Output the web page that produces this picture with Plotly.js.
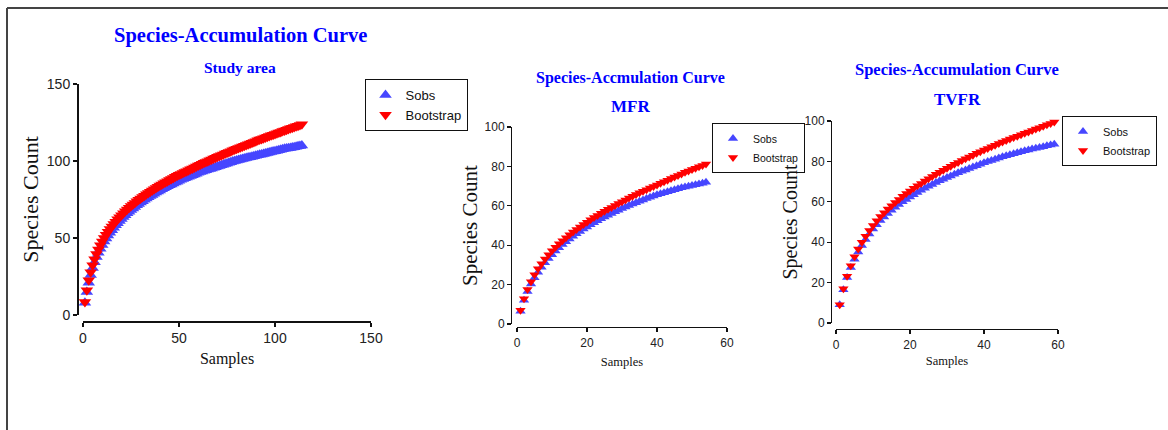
<!DOCTYPE html>
<html><head><meta charset="utf-8">
<script src="https://cdn.plot.ly/plotly-3.0.1.min.js"></script>
<style>html,body{margin:0;padding:0;background:#fff}#chart{width:1168px;height:430px}</style>
</head><body><div id="chart"></div>
<script>
// ---- Study area ----
const studySamples = [1,2,3,4,5,6,7,8,9,10,11,12,13,14,15,16,17,18,19,20,21,22,23,24,25,26,27,28,29,30,31,32,33,34,35,36,37,38,39,40,41,42,43,44,45,46,47,48,49,50,51,52,53,54,55,56,57,58,59,60,61,62,63,64,65,66,67,68,69,70,71,72,73,74,75,76,77,78,79,80,81,82,83,84,85,86,87,88,89,90,91,92,93,94,95,96,97,98,99,100,101,102,103,104,105,106,107,108,109,110,111,112,113,114];
const studySobs = [8,15,21,26,30.5,34.3,37.6,40.5,43.1,45.5,
  47.7,49.7,51.6,53.4,55.1,56.7,58.2,59.6,61.0,62.3,
  63.6,64.8,66.0,67.1,68.2,69.2,70.2,71.2,72.1,73.0,
  73.9,74.8,75.6,76.4,77.2,78.0,78.8,79.5,80.2,80.9,
  81.6,82.3,83.0,83.6,84.2,84.8,85.4,86.0,86.6,87.2,
  87.8,88.3,88.8,89.3,89.8,90.3,90.8,91.3,91.8,92.3,
  92.8,93.2,93.6,94.0,94.4,94.8,95.2,95.6,96.0,96.4,
  96.8,97.2,97.6,98.0,98.4,98.8,99.2,99.6,100.0,100.4,
  100.7,101.0,101.3,101.6,101.9,102.2,102.5,102.8,103.1,103.4,
  103.7,104.0,104.3,104.6,104.9,105.2,105.5,105.8,106.1,106.4,
  106.7,107.0,107.3,107.6,107.9,108.1,108.3,108.5,108.7,108.9,
  109.2,109.5,109.8,110.1];
const studyBootstrap = [8.5,16,22.5,27.8,32.3,36.2,39.6,42.6,45.3,47.8,
  50.0,52.1,54.0,55.8,57.5,59.1,60.6,62.1,63.5,64.8,
  66.1,67.3,68.5,69.6,70.7,71.8,72.8,73.8,74.8,75.7,
  76.6,77.5,78.4,79.3,80.1,80.9,81.7,82.5,83.3,84.1,
  84.8,85.5,86.2,86.9,87.6,88.3,89.0,89.7,90.4,91.0,
  91.6,92.2,92.8,93.4,94.0,94.6,95.2,95.8,96.4,97.0,
  97.6,98.2,98.8,99.3,99.9,100.5,101.0,101.6,102.1,102.7,
  103.2,103.8,104.3,104.8,105.4,105.9,106.4,106.9,107.4,107.9,
  108.4,108.9,109.4,109.9,110.4,110.9,111.4,111.9,112.4,112.9,
  113.4,113.9,114.3,114.8,115.3,115.7,116.2,116.7,117.1,117.6,
  118.0,118.5,118.9,119.4,119.8,120.3,120.7,121.2,121.6,122.0,
  122.5,122.9,123.3,123.8];

// ---- MFR ----
const mfrSamples = [1,2,3,4,5,6,7,8,9,10,11,12,13,14,15,16,17,18,19,20,21,22,23,24,25,26,27,28,29,30,31,32,33,34,35,36,37,38,39,40,41,42,43,44,45,46,47,48,49,50,51,52,53,54];
const mfrSobs = [6.5,12,16.5,20.3,23.5,26.3,28.8,31.1,33.2,35.2,
  37.0,38.7,40.3,41.8,43.2,44.5,45.8,47.0,48.2,49.3,
  50.4,51.4,52.4,53.4,54.3,55.2,56.1,57.0,57.8,58.6,
  59.4,60.2,60.9,61.6,62.3,63.0,63.7,64.4,65.0,65.6,
  66.1,66.6,67.1,67.6,68.1,68.6,69.1,69.5,69.9,70.3,
  70.7,71.1,71.5,71.9];
const mfrBootstrap = [7,12.8,17.5,21.5,25.0,28.0,30.6,33.0,35.2,37.2,
  39.0,40.7,42.3,43.8,45.3,46.7,48.0,49.3,50.5,51.7,
  52.9,54.0,55.1,56.2,57.2,58.2,59.2,60.2,61.2,62.1,
  63.0,63.9,64.8,65.7,66.6,67.4,68.2,69.0,69.8,70.6,
  71.4,72.2,73.0,73.8,74.6,75.4,76.2,77.0,77.7,78.4,
  79.1,79.8,80.5,81.2];

// ---- TVFR ----
const tvfrSamples = [1,2,3,4,5,6,7,8,9,10,11,12,13,14,15,16,17,18,19,20,21,22,23,24,25,26,27,28,29,30,31,32,33,34,35,36,37,38,39,40,41,42,43,44,45,46,47,48,49,50,51,52,53,54,55,56,57,58,59];
const tvfrSobs = [9,16.5,22.5,27.5,31.6,35.2,38.4,41.3,44.0,46.5,
  48.7,50.7,52.5,54.2,55.8,57.3,58.7,60.0,61.2,62.4,
  63.5,64.6,65.7,66.7,67.7,68.6,69.5,70.4,71.2,72.0,
  72.8,73.6,74.4,75.1,75.8,76.5,77.2,77.9,78.6,79.3,
  79.9,80.5,81.1,81.7,82.3,82.8,83.3,83.8,84.3,84.8,
  85.3,85.7,86.1,86.5,86.9,87.3,87.7,88.1,88.5];
const tvfrBootstrap = [9,17,23.2,28.4,32.8,36.6,40.0,43.0,45.8,48.3,
  50.6,52.7,54.6,56.4,58.1,59.7,61.2,62.7,64.1,65.4,
  66.7,67.9,69.1,70.3,71.4,72.5,73.6,74.6,75.6,76.6,
  77.6,78.6,79.5,80.4,81.3,82.2,83.1,84.0,84.8,85.6,
  86.4,87.2,88.0,88.8,89.6,90.4,91.1,91.8,92.5,93.2,
  93.9,94.6,95.3,96.0,96.7,97.4,98.1,98.8,99.5];

const seriesNames = ['Sobs','Bootstrap'];
const panelTitles = ['Species-Accumulation Curve','Species-Accmulation Curve','Species-Accumulation Curve'];
const panelSubtitles = ['Study area','MFR','TVFR'];
const xTitle = 'Samples';
const yTitle = 'Species Count';

const W = 1168, H = 430;
const px = v => v / W;
const py = v => 1 - v / H;

const SOBS_COLOR = '#4646ff';
const BOOT_COLOR = '#ff0000';
const SANS = '"Liberation Sans Narrow", "Arial Narrow", "Liberation Sans", Arial, sans-serif';
const SERIF = '"Liberation Serif", "Times New Roman", Times, serif';

function pair(x, s, b, ax, lg, size) {
  return [
    {x: x, y: s, type: 'scatter', mode: 'markers', name: seriesNames[0], xaxis: 'x' + ax, yaxis: 'y' + ax, legend: lg,
     cliponaxis: false, marker: {symbol: 'triangle-up', color: SOBS_COLOR, size: size}},
    {x: x, y: b, type: 'scatter', mode: 'markers', name: seriesNames[1], xaxis: 'x' + ax, yaxis: 'y' + ax, legend: lg,
     cliponaxis: false, marker: {symbol: 'triangle-down', color: BOOT_COLOR, size: size}}
  ];
}

const data = [].concat(
  pair(studySamples, studySobs, studyBootstrap, '', 'legend', 11),
  pair(mfrSamples, mfrSobs, mfrBootstrap, '2', 'legend2', 9),
  pair(tvfrSamples, tvfrSobs, tvfrBootstrap, '3', 'legend3', 9)
);

function axis(domain, position, range, dtick, tickSize, title, titleSize, standoff, lw) {
  return {
    domain: domain, anchor: 'free', position: position, range: range, tick0: 0, dtick: dtick,
    showline: true, linecolor: '#111', linewidth: lw, ticks: 'outside', ticklen: 4, tickwidth: lw, tickcolor: '#111',
    showgrid: false, zeroline: false, fixedrange: true,
    tickfont: {family: SANS, size: tickSize, color: '#222'},
    title: {text: title, font: {family: SERIF, size: titleSize, color: '#111'}, standoff: standoff}
  };
}

function legendBox(x, xanchor, yt, size) {
  return {x: px(x), xanchor: xanchor, y: py(yt), yanchor: 'top', bgcolor: '#fff', bordercolor: '#111', borderwidth: 1,
          font: {family: SANS, size: size, color: '#111'}, tracegroupgap: 0};
}

function ann(text, x, y, size) {
  return {text: '<b>' + text + '</b>', x: px(x), y: py(y), xref: 'paper', yref: 'paper', xanchor: 'center', yanchor: 'middle',
          showarrow: false, font: {family: SERIF, size: size, color: '#0000ff'}};
}

const layout = {
  width: W, height: H, margin: {l: 0, r: 0, t: 0, b: 0},
  paper_bgcolor: '#fff', plot_bgcolor: 'rgba(0,0,0,0)', showlegend: true,
  xaxis:  axis([px(83), px(371)], py(321), [0, 150], 50, 14, xTitle, 16, 7, 1.5),
  yaxis:  axis([py(315), py(84)], px(77), [0, 150], 50, 14, yTitle, 22, 0, 1.5),
  xaxis2: axis([px(517), px(727)], py(327), [0, 60], 20, 12, xTitle, 12.5, 8, 1.2),
  yaxis2: axis([py(324), py(127)], px(511), [0, 100], 20, 12, yTitle, 21, 0, 1.2),
  xaxis3: axis([px(836), px(1058)], py(329), [0, 60], 20, 12, xTitle, 12.5, 5, 1.2),
  yaxis3: axis([py(323), py(121)], px(831), [0, 100], 20, 12, yTitle, 20, 0, 1.2),
  legend:  legendBox(416, 'center', 79, 13),
  legend2: legendBox(712, 'left', 123, 10.5),
  legend3: legendBox(1062, 'left', 116, 11),
  annotations: [
    ann(panelTitles[0], 240, 36, 20.5), ann(panelSubtitles[0], 240, 67, 15.5),
    ann(panelTitles[1], 630, 78, 16), ann(panelSubtitles[1], 630, 107, 17),
    ann(panelTitles[2], 957, 69, 16.5), ann(panelSubtitles[2], 957, 99, 17)
  ],
  shapes: [
    {type: 'line', xref: 'paper', yref: 'paper', x0: px(7), x1: px(7), y0: 0, y1: py(8), line: {color: '#444', width: 2}},
    {type: 'line', xref: 'paper', yref: 'paper', x0: px(7), x1: 1, y0: py(8), y1: py(8), line: {color: '#444', width: 2}}
  ]
};

Plotly.newPlot('chart', data, layout, {displayModeBar: false, staticPlot: true});
</script>
</body></html>
